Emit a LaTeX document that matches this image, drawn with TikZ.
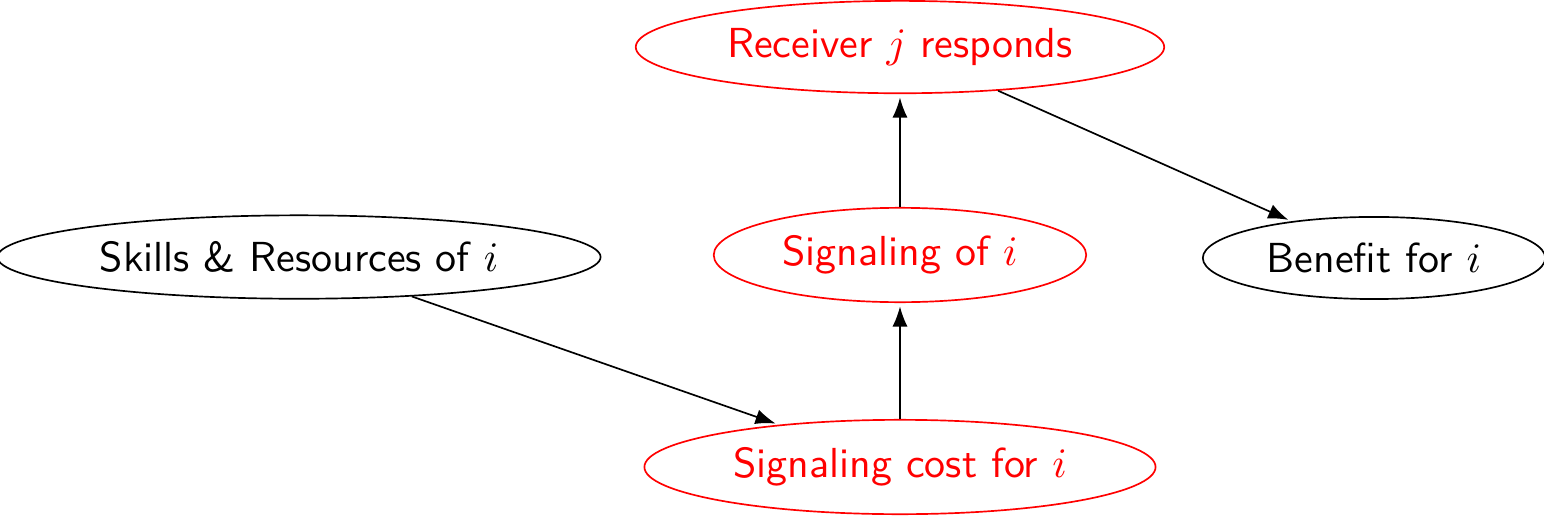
\documentclass[tikz,border=0pt]{standalone}
\usetikzlibrary{arrows.meta,shapes.geometric}
\tikzset{%
    factor/.style={ellipse,draw,font=\sffamily},
    signal/.style={factor,red},
    link/.style={-Latex,shorten >=0.8pt},
}

\begin{document}
\begin{tikzpicture}
    \useasboundingbox (0,0) rectangle (12.920,4.310);

    % nodes
    \node[factor] (skills) at (2.502,2.159) {Skills \& Resources of $i$};
    \node[signal] (sig) at (7.531,2.176) {Signaling of $i$};
    \node[factor] (benefit) at (11.498,2.151) {Benefit for $i$};
    \node[signal] (recv) at (7.531,3.916) {Receiver $j$ responds};
    \node[signal] (cost) at (7.531,0.402) {Signaling cost for $i$};

    % arrows
    \draw[link] (skills) -- (cost);
    \draw[link] (cost) -- (sig);
    \draw[link] (sig) -- (recv);
    \draw[link] (recv) -- (benefit);

\end{tikzpicture}
\end{document}
